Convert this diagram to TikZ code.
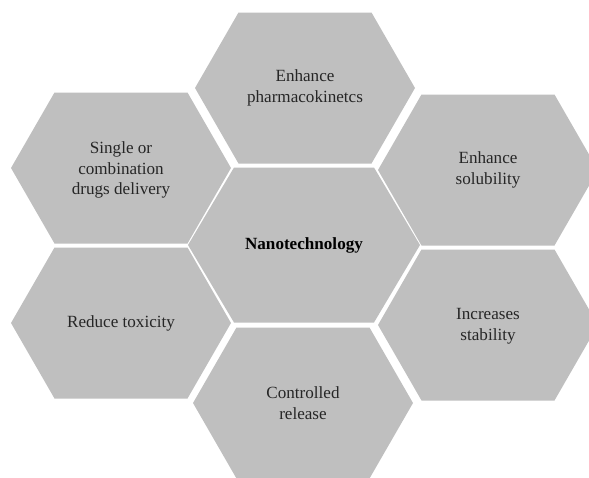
\documentclass[tikz,border=0pt]{standalone}
\usepackage{fontspec}
\setmainfont{Liberation Serif}
\definecolor{cellgray}{RGB}{191,191,191}
\definecolor{textgray}{RGB}{38,38,38}

\begin{document}
\begin{tikzpicture}[x=1pt,y=-1pt,
    cell/.style={fill=cellgray},
    celltext/.style={align=center,text=textgray,font=\fontsize{17.1}{20.5}\selectfont}]
        \useasboundingbox (0,0) rectangle (589,477);%
        \clip (0,0) rectangle (589,477);%
        % outer cells
        \fill[cell] (11,168) -- ++(43.5,-75.5) -- ++(133,0) -- ++(43.5,75.5) -- ++(-43.5,75.5) -- ++(-133,0) -- cycle;%
        \fill[cell] (195,88) -- ++(43.5,-75.5) -- ++(133,0) -- ++(43.5,75.5) -- ++(-43.5,75.5) -- ++(-133,0) -- cycle;%
        \fill[cell] (378,170) -- ++(43.5,-75.5) -- ++(133,0) -- ++(43.5,75.5) -- ++(-43.5,75.5) -- ++(-133,0) -- cycle;%
        \fill[cell] (378,325) -- ++(43.5,-75.5) -- ++(133,0) -- ++(43.5,75.5) -- ++(-43.5,75.5) -- ++(-133,0) -- cycle;%
        \fill[cell] (193,403) -- ++(43.5,-75.5) -- ++(133,0) -- ++(43.5,75.5) -- ++(-43.5,75.5) -- ++(-133,0) -- cycle;%
        \fill[cell] (11,323) -- ++(43.5,-75.5) -- ++(133,0) -- ++(43.5,75.5) -- ++(-43.5,75.5) -- ++(-133,0) -- cycle;%
        % middle cell
        \fill[cell] (188,245) -- ++(46,-77.5) -- ++(140,0) -- ++(46,77.5) -- ++(-46,77.5) -- ++(-140,0) -- cycle;%
        % labels
        \node[celltext,font=\fontsize{17.1}{20.5}\selectfont\bfseries,text=black] (nano) at (304,245) {Nanotechnology};%
        \node[celltext] (pharma) at (305,88) {Enhance\\pharmacokinetcs};%
        \node[celltext] (soluble) at (488,170) {Enhance\\solubility};%
        \node[celltext] (stable) at (488,326) {Increases\\stability};%
        \node[celltext] (release) at (303,403) {Controlled\\release};%
        \node[celltext] (toxic) at (121,323) {Reduce toxicity};%
        \node[celltext] (delivery) at (121,170) {Single or\\combination\\drugs delivery};%
\end{tikzpicture}
\end{document}
